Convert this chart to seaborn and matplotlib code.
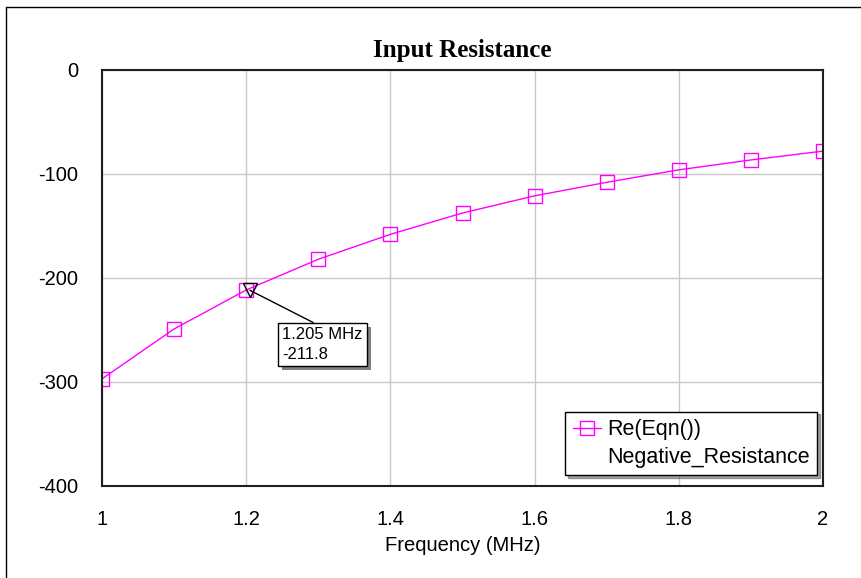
import numpy as np
import matplotlib
matplotlib.use('Agg')
import matplotlib.pyplot as plt
import matplotlib.patheffects as pe
from matplotlib.lines import Line2D
import seaborn as sns

# data
freq = [1.0, 1.1, 1.2, 1.3, 1.4, 1.5, 1.6, 1.7, 1.8, 1.9, 2.0]
resistance = [-297, -249, -211.5, -182, -158, -137.5, -121, -108, -96, -86.5, -78]
marker_freq = 1.205
marker_val = -211.8
x_ticks = [1, 1.2, 1.4, 1.6, 1.8, 2]
x_tick_labels = ['1', '1.2', '1.4', '1.6', '1.8', '2']
y_ticks = [0, -100, -200, -300, -400]

sns.set_style('white')
plt.rcParams['font.family'] = ['Liberation Sans', 'DejaVu Sans']
plt.rcParams['axes.unicode_minus'] = False
plt.rcParams['text.color'] = 'black'
plt.rcParams['xtick.color'] = 'black'
plt.rcParams['ytick.color'] = 'black'
plt.rcParams['axes.labelcolor'] = 'black'

fig = plt.figure(figsize=(8.61, 5.78), dpi=100)
ax = fig.add_axes([0.1185, 0.1592, 0.8374, 0.7197])

magenta = '#ff00ff'
sns.lineplot(x=freq, y=resistance, ax=ax, color=magenta, linewidth=1,
             marker='s', markersize=9.5, markerfacecolor='none',
             markeredgecolor=magenta, markeredgewidth=1)

# marker readout
ax.plot(marker_freq, marker_val, marker='v', markersize=10,
        markerfacecolor='none', markeredgecolor='black', markeredgewidth=1)
ann = ax.annotate(f'{marker_freq:.3f} MHz\n{marker_val}',
                  xy=(marker_freq, marker_val), xytext=(1.2497, -264),
                  fontsize=12, va='center', ha='left', linespacing=1.4,
                  bbox=dict(boxstyle='square,pad=0.25', fc='white', ec='black', lw=1),
                  arrowprops=dict(arrowstyle='-', color='black', lw=1,
                                  shrinkA=0, shrinkB=0, relpos=(0.5, 1.0)))
ann.get_bbox_patch().set_path_effects(
    [pe.withSimplePatchShadow(offset=(3, -3), shadow_rgbFace='#808080', alpha=1.0)])

ax.set_xlim(1, 2)
ax.set_ylim(-400, 0)
ax.set_xticks(x_ticks)
ax.set_xticklabels(x_tick_labels)
ax.set_yticks(y_ticks)
ax.tick_params(axis='both', length=0, labelsize=14.5)
ax.tick_params(axis='y', pad=17)
ax.tick_params(axis='x', pad=17)
ax.grid(True, color='#c8c8c8', linewidth=1)
for s in ax.spines.values():
    s.set_color('#202020')
    s.set_linewidth(1.5)

ax.set_title('Input Resistance', fontsize=18, fontweight='bold',
             family=['Liberation Serif', 'DejaVu Serif'], pad=9)
ax.set_xlabel('Frequency (MHz)', fontsize=14.5, labelpad=5)
ax.set_ylabel('')

handles = [Line2D([], [], color=magenta, lw=1, marker='s', markersize=9.5,
                  markerfacecolor='none', markeredgecolor=magenta),
           Line2D([], [], color='none', lw=0)]
leg = ax.legend(handles, ['Re(Eqn())', 'Negative_Resistance'],
                loc='lower right', bbox_to_anchor=(0.992, 0.026),
                borderaxespad=0, fontsize=15.5, fancybox=False, shadow=True,
                framealpha=1, edgecolor='black', handlelength=1.3,
                handletextpad=0.3, labelspacing=0.3, borderpad=0.35)
leg.get_frame().set_linewidth(1)

# outer frame lines (top and left)
fig.add_artist(Line2D([6 / 861, 1], [1 - 7 / 578, 1 - 7 / 578], color='black', lw=1))
fig.add_artist(Line2D([6 / 861, 6 / 861], [0, 1 - 7 / 578], color='black', lw=1))

fig.savefig('out.png', dpi=100)
